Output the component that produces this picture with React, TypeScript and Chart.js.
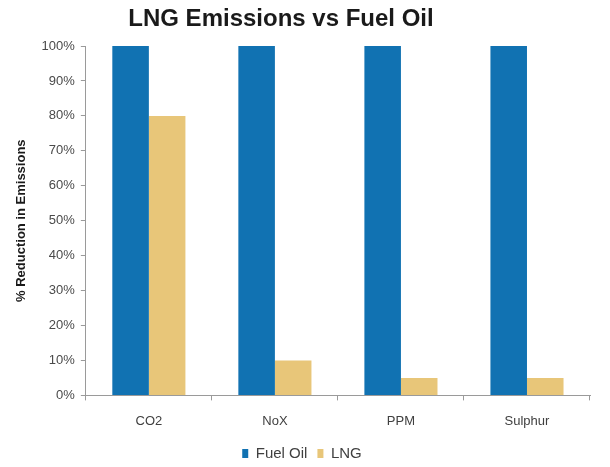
import React, { useEffect, useRef } from "react";
import { Chart, registerables } from "chart.js";

Chart.register(...registerables);

const categories = ["CO2", "NoX", "PPM", "Sulphur"];
const fuelOil = [100, 100, 100, 100];
const lng = [80, 10, 5, 5];
const yTicks = [0, 10, 20, 30, 40, 50, 60, 70, 80, 90, 100];
const titleText = "LNG Emissions vs Fuel Oil";
const yTitle = "% Reduction in Emissions";

const titlePlugin = {
  id: "customTitle",
  afterDraw(chart: any) {
    const ctx = chart.ctx;
    ctx.save();
    ctx.font = "bold 24px 'Liberation Sans', Arial, sans-serif";
    ctx.fillStyle = "#1a1a1a";
    ctx.textAlign = "center";
    ctx.textBaseline = "middle";
    ctx.fillText(titleText, 281, 19);
    ctx.restore();
  },
};

export default function App() {
  const ref = useRef<HTMLCanvasElement>(null);
  useEffect(() => {
    document.body.style.margin = "0";
    const chart = new Chart(ref.current!, {
      type: "bar",
      data: {
        labels: categories,
        datasets: [
          { label: "Fuel Oil", data: fuelOil, backgroundColor: "#1172b2", categoryPercentage: 0.58, barPercentage: 1 },
          { label: "LNG", data: lng, backgroundColor: "#e8c679", categoryPercentage: 0.58, barPercentage: 1 },
        ],
      },
      options: {
        animation: false,
        responsive: false,
        layout: { padding: { top: 46, right: 20, left: 14, bottom: -4 } },
        plugins: {
          title: { display: false },
          tooltip: { enabled: false },
          legend: {
            position: "bottom",
            labels: {
              boxWidth: 6,
              boxHeight: 9,
              padding: 10,
              color: "#404040",
              font: { family: "'Liberation Sans', Arial, sans-serif", size: 15 },
            },
          },
        },
        scales: {
          x: {
            grid: { drawOnChartArea: false, drawTicks: true, tickLength: 5, offset: true, color: "#9a9a9a" },
            border: { color: "#9a9a9a" },
            ticks: { color: "#404040", font: { family: "'Liberation Sans', Arial, sans-serif", size: 13 }, padding: 13 },
            afterFit: (s: any) => {
              s.height -= 6;
            },
          },
          y: {
            min: 0,
            max: 100,
            afterBuildTicks: (axis: any) => {
              axis.ticks = yTicks.map((v) => ({ value: v }));
            },
            grid: { drawOnChartArea: false, drawTicks: true, tickLength: 5, color: "#9a9a9a" },
            border: { color: "#9a9a9a" },
            ticks: {
              color: "#4a4a4a",
              font: { family: "'Liberation Sans', Arial, sans-serif", size: 13 },
              padding: 6,
              callback: (v: any) => v + "%",
            },
            title: {
              display: true,
              text: yTitle,
              color: "#1a1a1a",
              font: { family: "'Liberation Sans', Arial, sans-serif", size: 13, weight: "bold" },
              padding: { top: 0, bottom: 6 },
            },
          },
        },
      },
      plugins: [titlePlugin],
    });
    return () => chart.destroy();
  }, []);
  return (
    <div style={{ position: "fixed", left: 0, top: 0, width: 610, height: 467, background: "#fff" }}>
      <canvas ref={ref} width={610} height={467} style={{ width: 610, height: 467 }} />
    </div>
  );
}
